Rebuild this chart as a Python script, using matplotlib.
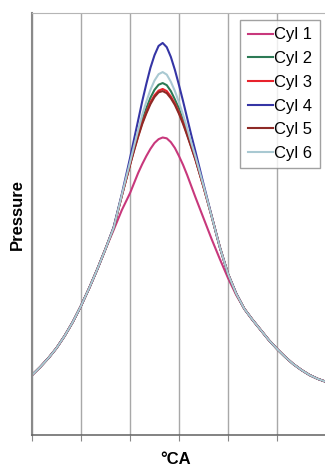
# Cylinder pressure traces, 6 cylinders
import matplotlib
matplotlib.use("Agg")
import matplotlib.pyplot as plt

# crank angle (deg) - shared compression / expansion parts and the peak zone
angle_left = [-80, -75, -70, -65, -60, -55, -50, -45, -40, -35]
angle_mid = [-30, -25, -20, -17.5, -15, -12.5, -10, -7.5, -5, -2.5, 0,
             2.5, 5, 7.5, 10, 12.5, 15, 17.5, 20, 25, 30, 35, 40, 45]
angle_right = [50, 55, 60, 65, 70, 75, 80, 85, 90, 95, 100]

# pressure (same for every cylinder away from TDC)
p_left = [14.2, 16.1, 18.2, 20.6, 23.5, 26.8, 30.6, 34.8, 39.3, 44.1]
p_right = [29.9, 27.3, 24.9, 22.5, 20.4, 18.5, 16.8, 15.4, 14.2, 13.3, 12.6]

# pressure around the peak, per cylinder
cyl1 = [48.6, 53.3, 57.3, 59.7, 62.1, 64.2, 66.1, 67.8, 69.2, 70.1, 70.5, 70.3,
        69.4, 68.0, 66.1, 64.0, 61.6, 59.0, 56.4, 51.4, 46.4, 41.7, 37.2, 33.2]
cyl2 = [49.1, 56.8, 64.2, 67.9, 71.4, 74.6, 77.4, 79.9, 81.8, 83.0, 83.4, 82.9,
        81.5, 79.5, 77.3, 74.6, 71.7, 68.6, 65.6, 58.9, 51.8, 44.5, 38.2, 33.5]
cyl3 = [49.1, 56.7, 64.0, 67.6, 70.9, 74.0, 76.5, 78.8, 80.5, 81.6, 82.0, 81.5,
        80.2, 78.5, 76.4, 74.0, 71.2, 68.3, 65.4, 58.8, 51.8, 44.5, 38.2, 33.5]
cyl4 = [49.3, 57.1, 65.6, 70.1, 74.6, 79.1, 83.2, 87.0, 90.0, 92.2, 92.9, 91.9,
        89.6, 86.5, 82.9, 79.1, 75.1, 71.1, 67.3, 59.5, 51.9, 44.5, 38.2, 33.6]
cyl5 = [49.1, 56.7, 64.0, 67.4, 70.7, 73.7, 76.2, 78.4, 80.1, 81.2, 81.5, 81.0,
        79.8, 78.2, 76.1, 73.7, 71.0, 68.2, 65.3, 58.8, 51.8, 44.5, 38.2, 33.5]
cyl6 = [49.1, 56.9, 64.6, 68.5, 72.3, 75.9, 79.0, 81.8, 84.0, 85.5, 86.0, 85.4,
        83.7, 81.5, 78.8, 75.9, 72.7, 69.3, 66.1, 59.1, 51.8, 44.5, 38.2, 33.5]

labels = ["Cyl 1", "Cyl 2", "Cyl 3", "Cyl 4", "Cyl 5", "Cyl 6"]
colors = ["#c8387c", "#2c7a55", "#e8222c", "#3535a5", "#8e2a26", "#a9c9d2"]
grid_x = [-80, -50, -20, 10, 40, 70, 100]

angle = angle_left + angle_mid + angle_right

fig = plt.figure(figsize=(3.25, 4.67), dpi=100)
ax = fig.add_axes([32 / 325, 32 / 467, 294 / 325, 422 / 467])

for lab, col, mid in zip(labels, colors, [cyl1, cyl2, cyl3, cyl4, cyl5, cyl6]):
    ax.plot(angle, p_left + mid + p_right, color=col, lw=1.5, label=lab,
            solid_joinstyle="round")

ax.set_xlim(-80, 100)
ax.set_ylim(0, 100)
ax.set_xticks(grid_x)
ax.set_xticklabels([])
ax.set_yticks([])
ax.grid(axis="x", color="#a8a8a8", lw=1.0)
ax.tick_params(axis="x", direction="out", length=4, color="#888888")

ax.spines["left"].set_color("#8a8a8a")
ax.spines["left"].set_linewidth(1.5)
ax.spines["top"].set_color("#b5b5b5")
ax.spines["bottom"].set_color("#606060")
ax.spines["bottom"].set_linewidth(1.1)
ax.spines["right"].set_visible(False)

fig.text(176 / 325, 1 - 459 / 467, "°CA", ha="center", va="center",
         fontsize=12, fontweight="bold", family="Liberation Sans")
fig.text(17 / 325, 1 - 214 / 467, "Pressure", ha="center", va="center",
         rotation=90, fontsize=12, fontweight="bold", family="Liberation Sans")

leg = ax.legend(loc="upper right", bbox_to_anchor=(320 / 325, 1 - 20 / 467),
                bbox_transform=fig.transFigure, borderaxespad=0,
                fancybox=False, frameon=True, handlelength=1.5,
                handletextpad=0.1, labelspacing=0.52, borderpad=0.45,
                prop={"family": "Liberation Sans", "size": 12})
leg.get_frame().set_edgecolor("#8a8a8a")
leg.get_frame().set_linewidth(1.0)

fig.savefig("out.png", dpi=100)
